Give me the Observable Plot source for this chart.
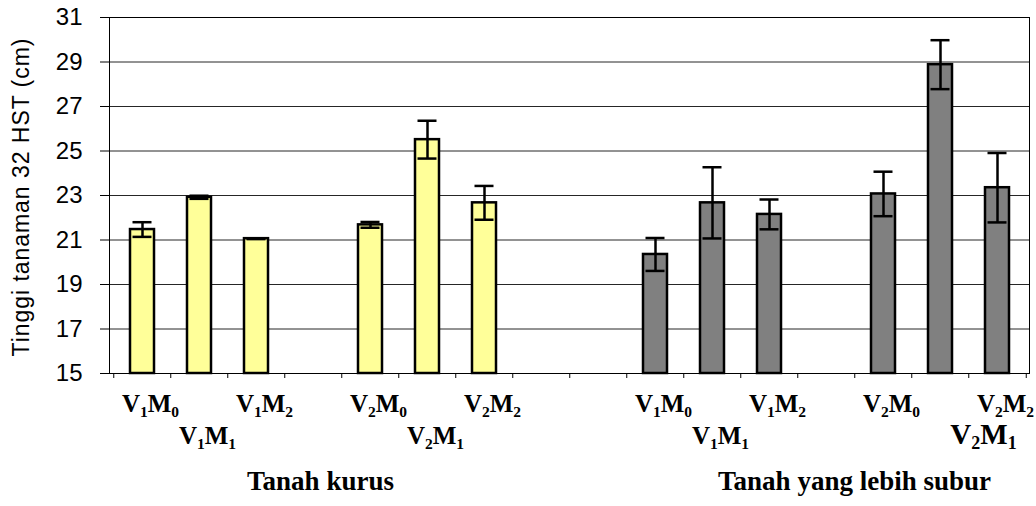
<!DOCTYPE html>
<html><head><meta charset="utf-8">
<script src="https://cdn.jsdelivr.net/npm/d3@7"></script>
<script src="https://cdn.jsdelivr.net/npm/@observablehq/plot@0.6"></script>
<style>
html,body{margin:0;padding:0;background:#fff;}
</style></head><body><div id="chart"></div>
<script>
const treatments = ["V1M0","V1M1","V1M2","V2M0","V2M1","V2M2"];
const soilGroups = ["Tanah kurus","Tanah yang lebih subur"];
const kurusMean = [21.47, 22.92, 21.06, 21.68, 25.51, 22.67];
const kurusErr  = [0.33, 0.07, 0.02, 0.13, 0.85, 0.76];
const suburMean = [20.35, 22.67, 22.15, 23.07, 28.88, 23.35];
const suburErr  = [0.74, 1.60, 0.67, 1.00, 1.10, 1.56];
const slotOrder = ["kurus V1M0","kurus V1M1","kurus V1M2","kurus gap","kurus V2M0","kurus V2M1","kurus V2M2","gap a","gap b","subur V1M0","subur V1M1","subur V1M2","subur gap","subur V2M0","subur V2M1","subur V2M2"];
const groupSlots = ["kurus gap","subur gap"];
const yTicks = [15,17,19,21,23,25,27,29,31];
const yTitle = "Tinggi tanaman 32 HST (cm)";
const fills = ["#FFFF99","#808080"];

const rows = [];
[["kurus", kurusMean, kurusErr], ["subur", suburMean, suburErr]].forEach(([p, means, errs], g) => {
  treatments.forEach((t, i) => rows.push({
    slot: p + " " + t, label: t, mean: means[i], err: errs[i],
    color: fills[g], row: (i % 3 === 1) ? 2 : 1, big: (g === 1 && i === 4)
  }));
});

const W = 1036, H = 506, mL = 109, mR = 7, mT = 17, mB = 133;
const step = (W - mL - mR) / slotOrder.length;
const serif = "Liberation Serif, Times New Roman, serif";

const plot = Plot.plot({
  width: W, height: H, marginLeft: mL, marginRight: mR, marginTop: mT, marginBottom: mB,
  style: {fontFamily: "Liberation Sans, Arial, sans-serif", fontSize: "21px", background: "#fff", color: "#000"},
  x: {type: "band", domain: slotOrder, paddingInner: 0.58, paddingOuter: 0.29, axis: null},
  y: {domain: [15, 31], label: null},
  marks: [
    Plot.gridY(yTicks, {stroke: "#000", strokeOpacity: 0.85}),
    Plot.frame({stroke: "#000"}),
    Plot.axisY(yTicks, {tickSize: 9, tickPadding: 18, fontSize: 24, label: null}),
    Plot.ruleX(slotOrder, {x: d => d, y1: 15, y2: 15, insetBottom: -5, dx: -step / 2}),
    Plot.ruleX(slotOrder.slice(-1), {x: d => d, y1: 15, y2: 15, insetBottom: -5, dx: step / 2}),
    Plot.barY(rows, {x: "slot", y1: 15, y2: "mean", fill: "color", stroke: "#000", strokeWidth: 2.5}),
    Plot.ruleX(rows, {x: "slot", y1: d => d.mean - d.err, y2: d => d.mean + d.err, stroke: "#000", strokeWidth: 2.5}),
    Plot.tickY(rows, {x: "slot", y: d => d.mean - d.err, stroke: "#000", strokeWidth: 2.5, insetLeft: 2.5, insetRight: 2.5}),
    Plot.tickY(rows, {x: "slot", y: d => d.mean + d.err, stroke: "#000", strokeWidth: 2.5, insetLeft: 2.5, insetRight: 2.5}),
    Plot.text(rows.filter(d => d.row === 1), {x: "slot", text: "label", frameAnchor: "bottom", dy: 38, dx: 8, fontFamily: serif, fontWeight: "bold", fontSize: 25}),
    Plot.text(rows.filter(d => d.row === 2 && !d.big), {x: "slot", text: "label", frameAnchor: "bottom", dy: 70, dx: 8, fontFamily: serif, fontWeight: "bold", fontSize: 25}),
    Plot.text(rows.filter(d => d.big), {x: "slot", text: "label", frameAnchor: "bottom", dy: 70, dx: 43, fontFamily: serif, fontWeight: "bold", fontSize: 29}),
    Plot.text([soilGroups[0]], {x: () => groupSlots[0], text: d => d, frameAnchor: "bottom", dy: 116, dx: 7, fontFamily: serif, fontWeight: "bold", fontSize: 27}),
    Plot.text([soilGroups[1]], {x: () => groupSlots[1], text: d => d, frameAnchor: "bottom", dy: 116, dx: 28, fontFamily: serif, fontWeight: "bold", fontSize: 27}),
    Plot.text([yTitle], {text: d => d, frameAnchor: "left", textAnchor: "middle", rotate: -90, dx: -88, dy: 2, fontSize: 23})
  ]
});
document.getElementById("chart").appendChild(plot);

const ns = "http://www.w3.org/2000/svg";
plot.querySelectorAll("text").forEach(t => {
  const txt = t.textContent;
  if (txt === yTitle) { t.setAttribute("textLength", 318); t.setAttribute("lengthAdjust", "spacing"); return; }
  const m = /^V(\d)M(\d)$/.exec(txt);
  if (!m) return;
  const fs = parseFloat(getComputedStyle(t).fontSize) || 25;
  const sh = (fs * 0.2).toFixed(2);
  t.textContent = "";
  const add = (s, sub, dy) => {
    const ts = document.createElementNS(ns, "tspan");
    ts.textContent = s;
    if (sub) ts.setAttribute("font-size", "62%");
    if (dy) ts.setAttribute("dy", dy);
    t.appendChild(ts);
  };
  add("V"); add(m[1], true, sh); add("M", false, -sh); add(m[2], true, sh);
});
</script></body></html>
